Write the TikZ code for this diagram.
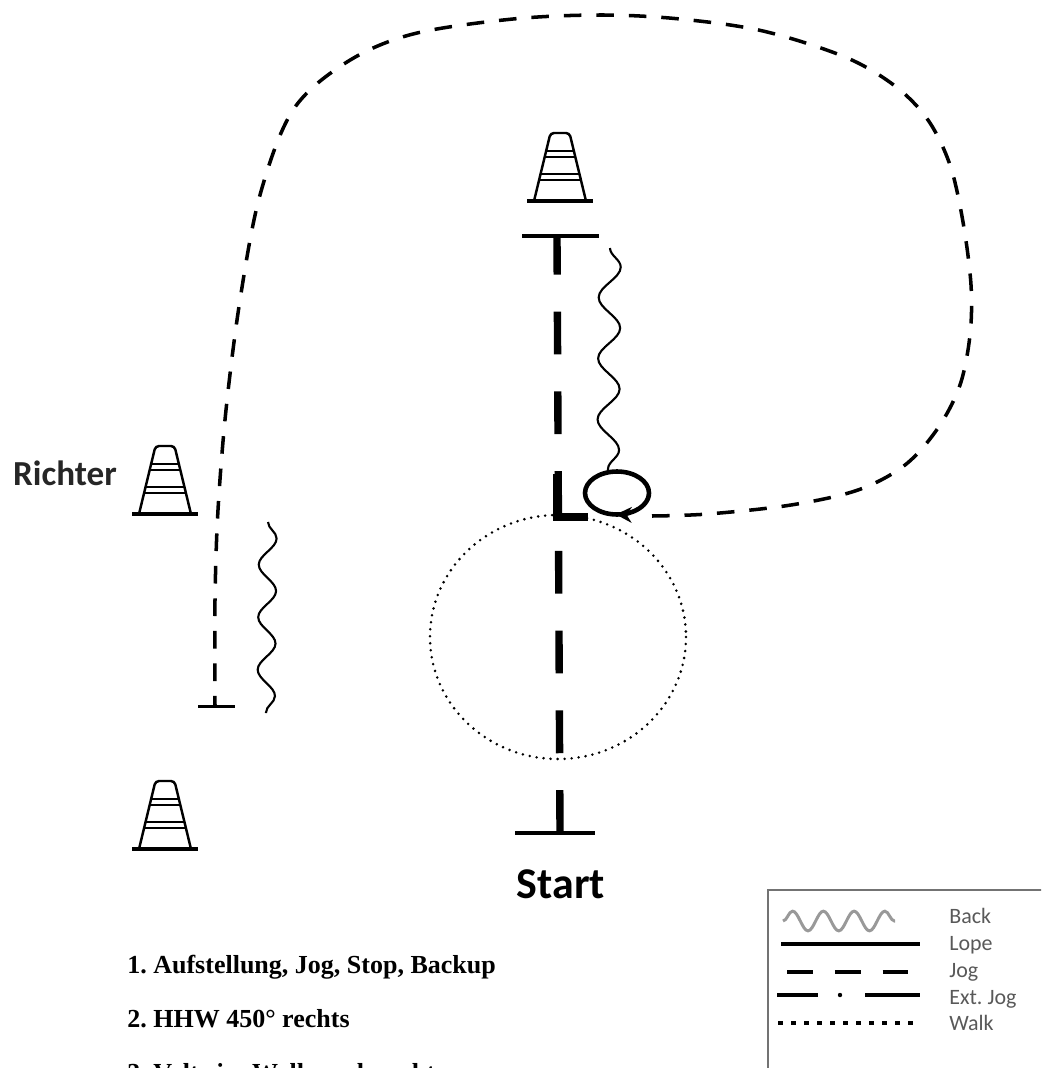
\documentclass[tikz,border=0pt]{standalone}
\usepackage{fontspec}
\setmainfont{Carlito}
\newfontfamily\instrfont{Liberation Serif}
\usetikzlibrary{arrows.meta, decorations.pathmorphing}
\frenchspacing

\tikzset{
	pics/cone/.style={code={
		\draw[line width=2.4pt] (-33,0) -- (33,0);
		\draw[line width=1.4pt, rounded corners=2pt] (-26,0) -- (-9.5,-68) -- (9.5,-68) -- (26,0);
		\draw[line width=1pt] (-14,-50) -- (14,-50) (-15.3,-44) -- (15.3,-44)
			(-19.4,-27) -- (19.4,-27) (-20.9,-21) -- (20.9,-21);
	}},
	jogline/.style={line width=4.2pt, dash pattern=on 24.4pt off 21pt},
	loopline/.style={line width=2pt, dash pattern=on 10pt off 8.5pt},
	backline/.style={line width=1.2pt, decorate, decoration={snake, #1}},
	walkline/.style={line width=1.6pt, line cap=round, dash pattern=on 0pt off 4pt},
	tbar/.style={line width=2.8pt},
	instr/.style={anchor=base west, inner sep=0pt, font=\instrfont\bfseries\fontsize{14.8}{17}\selectfont},
	legtext/.style={anchor=base west, inner sep=0pt, text=black!65, font=\fontsize{12.5}{14}\selectfont}
}

\begin{document}
\begin{tikzpicture}[x=0.02cm, y=-0.02cm]
	\useasboundingbox (0,0) rectangle (1041,1068);
	\clip (0,0) rectangle (1041,1068);

		\pic (topcone) at (560,201) {cone};
		\pic (judgecone) at (165,514) {cone};
		\pic (cornercone) at (165,849) {cone};

		\node[anchor=base, font=\bfseries\fontsize{20}{24}\selectfont, text=black!85] (judge) at (65,485) {Richter};
		\node[anchor=base, font=\bfseries\fontsize{25}{30}\selectfont] (start) at (561,898) {Start};

		\coordinate (startpos) at (560,833);
		\coordinate (stop) at (557,236);
		\coordinate (hhw) at (617,493);
		\coordinate (hhwexit) at (652,516);
		\coordinate (leftstop) at (215,706);

		\draw[tbar] (522,236) -- (599,236);
		\draw[tbar] (515,833) -- (595,833);
		\draw[line width=1.7pt] (198,706) -- (235,706);

		\draw[jogline] (startpos) -- (stop);
		\draw[line width=4.2pt] (557,474) -- (557,517) -- (588,517);

		\draw[walkline] (558,637) ellipse [x radius=128, y radius=122];

		\draw[backline={segment length=34.7pt, amplitude=6.2pt}] (610,248) -- (608,470);
		\draw[backline={segment length=29.9pt, amplitude=5pt}] (268,522) -- (266,713);

		\draw[line width=2.6pt, -{Stealth[length=9pt, width=9pt]}] (hhw) ++(0:32 and 21.5)
			arc[start angle=0, end angle=452, x radius=32, y radius=21.5];

		\draw[loopline] plot[smooth, tension=0.55] coordinates {(hhwexit) (708,514) (791,505) (858,490) (905,465) (938,428) (960,385) (970,335) (971,285) (963,222) (950,165) (928,120) (895,86) (845,57) (763,31) (680,19) (602,15) (513,19) (413,34) (347,62) (293,110) (260,195) (240,300) (226,410) (218,510) (215,600) (leftstop)};

		\node[instr] (line1) at (127,973) {1. Aufstellung, Jog, Stop, Backup};
		\node[instr] (line2) at (127,1027) {2. HHW 450° rechts};
		\node[instr] (line3) at (127,1081) {3. Volte im Walk nach rechts};

		% legend
		\draw[black!55, line width=1.1pt] (1045,890) -- (768,890) -- (768,1075);
		\draw[black!40, line width=1.7pt, decorate, decoration={snake, segment length=17.5pt, amplitude=5.6pt}] (783,921) -- (895,921);
		\draw[line width=2.8pt] (781,944) -- (920,944);
		\draw[line width=2.8pt, dash pattern=on 14.7pt off 12.5pt] (787,972) -- (910,972);
		\draw[line width=2.8pt] (777,995) -- (818,995) (865,995) -- (920,995);
		\fill (840,995) circle (2.2);
		\draw[line width=2.6pt, dash pattern=on 2.6pt off 4.8pt] (778,1023) -- (921,1023);

		\node[legtext] (lgback) at (949,923) {Back};
		\node[legtext] (lglope) at (949,950) {Lope};
		\node[legtext] (lgjog) at (949,977) {Jog};
		\node[legtext] (lgext) at (949,1004) {Ext. Jog};
		\node[legtext] (lgwalk) at (949,1030) {Walk};

\end{tikzpicture}
\end{document}
